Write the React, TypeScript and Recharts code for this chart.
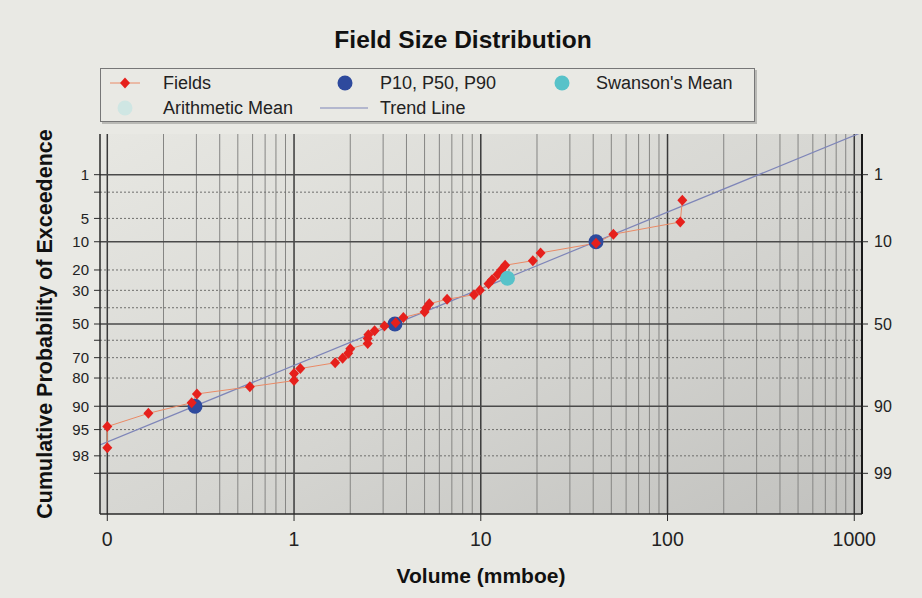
import React from 'react';
import { ComposedChart, Line, Scatter, XAxis, YAxis, ReferenceLine, CartesianGrid, Label } from 'recharts';

// ---------- data (volume in mmboe, cumulative probability of exceedence in %) ----------
const fieldVolumes = [0.1, 0.1, 0.166, 0.283, 0.302, 0.58, 1.0, 1.0, 1.08, 1.66, 1.82, 1.95, 2.0, 2.48, 2.48, 2.5, 2.7, 3.05, 3.5, 3.85, 5.0, 5.1, 5.3, 6.6, 9.2, 9.9, 11.0, 11.5, 12.3, 12.9, 13.5, 19.0, 20.9, 41.4, 51.3, 117, 120];
const fieldProbs = [97.3, 94.5, 91.8, 89.0, 86.2, 83.6, 81.1, 78.0, 75.6, 72.7, 70.3, 67.6, 65.0, 62.0, 59.0, 56.6, 54.2, 51.2, 49.3, 46.0, 42.6, 40.2, 37.6, 35.0, 32.4, 30.0, 26.5, 24.5, 22.0, 19.9, 18.0, 16.2, 13.4, 10.4, 8.1, 5.6, 2.7];

const pVolumes = [0.295, 3.47, 41.4];
const pProbs = [90, 50, 10];

const swansonVolumes = [13.9];
const swansonProbs = [23.8];

const trendVolumes = [0.0914, 1100];
const trendProbs = [97.03, 0.141];

const xDomain = [0.0914, 1100];
const xTicks = [0.1, 1, 10, 100, 1000];
const xTickLabels = ['0', '1', '10', '100', '1000'];
const xMantissas = [2, 3, 4, 5, 6, 7, 8, 9];

const leftTicks = [1, 2, 5, 10, 20, 30, 40, 50, 60, 70, 80, 90, 95, 98, 99];
const leftLabels = [1, 5, 10, 20, 30, 50, 70, 80, 90, 95, 98];
const rightTicks = [1, 10, 50, 90, 99];
const solidProbLines = [1, 10, 50, 90, 99];
const dottedProbLines = [2, 5, 20, 30, 40, 60, 70, 80, 95, 98];
const zDomainLimit = 2.96;

// ---------- probability (normal quantile) transform ----------
function probit(p: number): number {
  const a = [-3.969683028665376e1, 2.209460984245205e2, -2.759285104469687e2, 1.38357751867269e2, -3.066479806614716e1, 2.506628277459239];
  const b = [-5.447609879822406e1, 1.615858368580409e2, -1.556989798598866e2, 6.680131188771972e1, -1.328068155288572e1];
  const c = [-7.784894002430293e-3, -3.223964580411365e-1, -2.400758277161838, -2.549732539343734, 4.374664141464968, 2.938163982698783];
  const d = [7.784695709041462e-3, 3.224671290700398e-1, 2.445134137142996, 3.754408661907416];
  const pl = 0.02425;
  if (p < pl) {
    const q = Math.sqrt(-2 * Math.log(p));
    return (((((c[0] * q + c[1]) * q + c[2]) * q + c[3]) * q + c[4]) * q + c[5]) / ((((d[0] * q + d[1]) * q + d[2]) * q + d[3]) * q + 1);
  }
  if (p <= 1 - pl) {
    const q = p - 0.5;
    const r = q * q;
    return ((((((a[0] * r + a[1]) * r + a[2]) * r + a[3]) * r + a[4]) * r + a[5]) * q) / (((((b[0] * r + b[1]) * r + b[2]) * r + b[3]) * r + b[4]) * r + 1);
  }
  const q = Math.sqrt(-2 * Math.log(1 - p));
  return -(((((c[0] * q + c[1]) * q + c[2]) * q + c[3]) * q + c[4]) * q + c[5]) / ((((d[0] * q + d[1]) * q + d[2]) * q + d[3]) * q + 1);
}
const zOf = (pct: number) => probit(pct / 100);

const fieldData = fieldVolumes.map((v, i) => ({ v, z: zOf(fieldProbs[i]) }));
const pData = pVolumes.map((v, i) => ({ v, z: zOf(pProbs[i]) }));
const swansonData = swansonVolumes.map((v, i) => ({ v, z: zOf(swansonProbs[i]) }));
const trendData = trendVolumes.map((v, i) => ({ v, z: zOf(trendProbs[i]) }));

const xMajorGrid = xTicks;
const xMinorGrid = xTicks.slice(0, -1).flatMap((d) => xMantissas.map((m) => +(d * m).toPrecision(3)));

const FONT = '"Liberation Sans", Arial, Helvetica, sans-serif';
const RED = '#e6201c';
const BLUE = '#2e4a9d';
const CYAN = '#57c2c9';
const LIGHTCYAN = '#cfe6e3';
const LINE_ORANGE = '#ea8a66';
const TREND = '#7e85b8';

const Diamond = (props: any) => {
  const { cx, cy } = props;
  if (cx == null || cy == null) return <g key={`d-${props.index}`} />;
  return (
    <polygon
      key={`d-${props.index}`}
      points={`${cx},${cy - 5.5} ${cx + 5},${cy} ${cx},${cy + 5.5} ${cx - 5},${cy}`}
      fill={RED}
    />
  );
};

const circleShape = (fill: string) => (props: any) => (
  <circle cx={props.cx} cy={props.cy} r={7.5} fill={fill} />
);

const YTitle = (props: any) => {
  const vb = props.viewBox || {};
  const x = vb.x + 5;
  const y = vb.y + vb.height / 2;
  return (
    <text
      x={x}
      y={y}
      transform={`rotate(-90, ${x}, ${y})`}
      textAnchor="middle"
      dominantBaseline="central"
      style={{ fontFamily: FONT, fontWeight: 700, fontSize: 21.5, fill: '#111' }}
    >
      Cumulative Probability of Exceedence
    </text>
  );
};

export default function App() {
  const legendText: React.CSSProperties = { position: 'absolute', fontFamily: FONT, fontSize: 18, color: '#222', lineHeight: '20px' };
  return (
    <div style={{ position: 'absolute', left: 0, top: 0, width: 922, height: 598, background: '#e9e9e4', overflow: 'hidden' }}>
      <div style={{ position: 'absolute', left: 0, top: 26, width: 926, textAlign: 'center', fontFamily: FONT, fontWeight: 700, fontSize: 24.5, color: '#111', lineHeight: '28px' }}>
        Field Size Distribution
      </div>
      {/* legend */}
      <div style={{ position: 'absolute', left: 100, top: 68, width: 655, height: 54, border: '1px solid #777', boxShadow: '2px 2px 0 #b9b9b5', boxSizing: 'border-box' }} />
      <svg style={{ position: 'absolute', left: 0, top: 0 }} width={922} height={130}>
        <line x1={110} x2={140} y1={83} y2={83} stroke={LINE_ORANGE} strokeWidth={1} />
        <polygon points="125,77.5 130,83 125,88.5 120,83" fill={RED} />
        <circle cx={345} cy={83} r={7.5} fill={BLUE} />
        <circle cx={562} cy={83} r={7.5} fill={CYAN} />
        <circle cx={125} cy={108} r={7.5} fill={LIGHTCYAN} />
        <line x1={320} x2={368} y1={108} y2={108} stroke={TREND} strokeWidth={1.2} />
      </svg>
      <span style={{ ...legendText, left: 163, top: 73 }}>Fields</span>
      <span style={{ ...legendText, left: 380, top: 73 }}>P10, P50, P90</span>
      <span style={{ ...legendText, left: 596, top: 73 }}>Swanson's Mean</span>
      <span style={{ ...legendText, left: 163, top: 98 }}>Arithmetic Mean</span>
      <span style={{ ...legendText, left: 380, top: 98 }}>Trend Line</span>

      <ComposedChart
        width={922}
        height={598}
        margin={{ top: 134, right: 0, bottom: 54, left: 40 }}
        style={{ position: 'absolute', left: 0, top: 0 }}
      >
        <defs>
          <linearGradient id="plotBg" x1="0" y1="0" x2="1" y2="1">
            <stop offset="0%" stopColor="#e7e7e2" />
            <stop offset="55%" stopColor="#d5d5d1" />
            <stop offset="100%" stopColor="#c1c1be" />
          </linearGradient>
        </defs>
        <CartesianGrid horizontal={false} vertical={false} fill="url(#plotBg)" />
        <XAxis
          dataKey="v"
          type="number"
          scale="log"
          domain={xDomain}
          allowDataOverflow
          ticks={xTicks}
          interval={0}
          tickFormatter={(v: number, i: number) => xTickLabels[i] ?? String(v)}
          tick={{ fontFamily: FONT, fontSize: 19.5, fill: '#222' }}
          tickSize={7}
          tickMargin={11}
          height={30}
          axisLine={{ stroke: '#2a2a2a', strokeWidth: 1.5 }}
          tickLine={{ stroke: '#2a2a2a' }}
        >
          <Label
            value="Volume (mmboe)"
            position="bottom"
            offset={24}
            style={{ fontFamily: FONT, fontWeight: 700, fontSize: 21, fill: '#111' }}
          />
        </XAxis>
        <XAxis
          xAxisId="top"
          orientation="top"
          type="number"
          scale="log"
          domain={xDomain}
          allowDataOverflow
          ticks={[]}
          tick={false}
          tickLine={false}
          height={0}
          axisLine={{ stroke: '#2a2a2a', strokeWidth: 1.5 }}
        />
        <YAxis
          yAxisId="p"
          dataKey="z"
          type="number"
          domain={[-zDomainLimit, zDomainLimit]}
          reversed
          allowDataOverflow
          ticks={leftTicks.map(zOf)}
          interval={0}
          tickFormatter={(_v: number, i: number) => (leftLabels.includes(leftTicks[i]) ? String(leftTicks[i]) : '')}
          tick={{ fontFamily: FONT, fontSize: 15, fill: '#222' }}
          tickSize={6}
          tickMargin={5}
          width={60}
          axisLine={{ stroke: '#2a2a2a', strokeWidth: 1.5 }}
          tickLine={{ stroke: '#2a2a2a' }}
        >
          <Label content={<YTitle />} />
        </YAxis>
        <YAxis
          yAxisId="r"
          orientation="right"
          type="number"
          domain={[-zDomainLimit, zDomainLimit]}
          reversed
          allowDataOverflow
          ticks={rightTicks.map(zOf)}
          interval={0}
          tickFormatter={(_v: number, i: number) => String(rightTicks[i])}
          tick={{ fontFamily: FONT, fontSize: 16, fill: '#222' }}
          tickSize={6}
          tickMargin={6}
          width={60}
          axisLine={{ stroke: '#1a1a1a', strokeWidth: 2 }}
          tickLine={{ stroke: '#2a2a2a' }}
        />

        {xMinorGrid.map((v) => (
          <ReferenceLine key={`xm-${v}`} x={v} yAxisId="p" stroke="#858583" strokeWidth={1} />
        ))}
        {xMajorGrid.map((v) => (
          <ReferenceLine key={`xM-${v}`} x={v} yAxisId="p" stroke="#3a3a3a" strokeWidth={1.5} />
        ))}
        {dottedProbLines.map((p) => (
          <ReferenceLine key={`yd-${p}`} y={zOf(p)} yAxisId="p" stroke="#6e6e6c" strokeWidth={1} strokeDasharray="2 2" />
        ))}
        {solidProbLines.map((p) => (
          <ReferenceLine key={`ys-${p}`} y={zOf(p)} yAxisId="p" stroke="#4a4a4a" strokeWidth={1.5} />
        ))}

        <Line
          yAxisId="p"
          data={trendData}
          dataKey="z"
          type="linear"
          stroke={TREND}
          strokeWidth={1.2}
          dot={false}
          activeDot={false}
          isAnimationActive={false}
          legendType="none"
        />
        <Scatter yAxisId="p" data={pData} dataKey="z" shape={circleShape(BLUE)} isAnimationActive={false} />
        <Line
          yAxisId="p"
          data={fieldData}
          dataKey="z"
          type="linear"
          stroke={LINE_ORANGE}
          strokeWidth={1}
          dot={Diamond}
          activeDot={false}
          isAnimationActive={false}
        />
        <Scatter yAxisId="p" data={swansonData} dataKey="z" shape={circleShape(CYAN)} isAnimationActive={false} />
      </ComposedChart>
    </div>
  );
}
